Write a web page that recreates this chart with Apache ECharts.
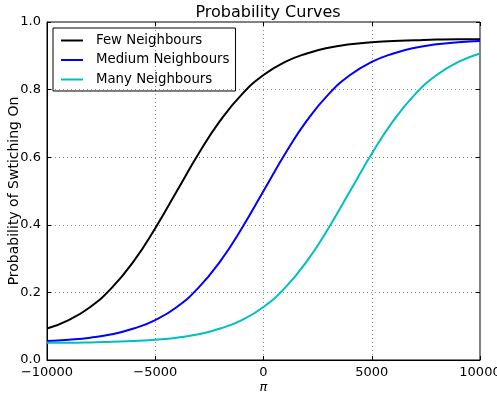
<!DOCTYPE html>
<html>
<head>
<meta charset="utf-8">
<script src="https://cdn.jsdelivr.net/npm/echarts@6/dist/echarts.min.js"></script>
<style>
  html, body { margin: 0; padding: 0; background: #fff; }
  #chart { width: 497px; height: 395px; }
</style>
</head>
<body>
<div id="chart"></div>
<script>
// x positions (pi) and curve values
const xValues = [-10000, -9000, -8000, -7000, -6000, -5000, -4000, -3000, -2000, -1000, 0,
                 1000, 2000, 3000, 4000, 5000, 6000, 7000, 8000, 9000, 10000]
const fewNeighbours = [0.093, 0.118, 0.157, 0.214, 0.292, 0.390, 0.500, 0.610, 0.708, 0.786, 0.843,
                       0.882, 0.907, 0.924, 0.934, 0.940, 0.944, 0.946, 0.948, 0.949, 0.949]
const mediumNeighbours = [0.056, 0.060, 0.066, 0.076, 0.093, 0.118, 0.157, 0.214, 0.292, 0.390, 0.500,
                          0.610, 0.708, 0.786, 0.843, 0.882, 0.907, 0.924, 0.934, 0.940, 0.944]
const manyNeighbours = [0.051, 0.051, 0.052, 0.054, 0.056, 0.060, 0.066, 0.076, 0.093, 0.118, 0.157,
                        0.214, 0.292, 0.390, 0.500, 0.610, 0.708, 0.786, 0.843, 0.882, 0.907]
const seriesNames = ['Few Neighbours', 'Medium Neighbours', 'Many Neighbours']

const font = 'DejaVu Sans'
const chart = echarts.init(document.getElementById('chart'))

function pairs(ys) {
    return xValues.map((x, i) => [x, ys[i]])
}

function makeSeries(name, ys, color) {
    return {
        name: name,
        type: 'line',
        smooth: 0.5,
        showSymbol: false,
        symbol: 'none',
        lineStyle: { width: 2, color: color },
        itemStyle: { color: color },
        data: pairs(ys)
    }
}

const gridLine = { show: true, lineStyle: { color: '#888', type: [1, 3], width: 1 } }
const tick = { show: true, inside: true, length: 4, lineStyle: { color: '#000' } }

chart.setOption({
    animation: false,
    textStyle: { fontFamily: font },
    title: {
        text: 'Probability Curves',
        left: 263,
        top: 0,
        textAlign: 'center',
        textStyle: { fontFamily: font, fontSize: 16, fontWeight: 'normal', color: '#000' }
    },
    legend: {
        orient: 'vertical',
        left: 53,
        top: 28,
        padding: [6, 6, 5, 8],
        itemWidth: 22,
        itemHeight: 2,
        itemGap: 6.5,
        borderColor: '#000',
        borderWidth: 1,
        icon: 'rect',
        data: seriesNames,
        textStyle: { fontFamily: font, fontSize: 13.3, color: '#000', padding: [0, 0, 0, 8] }
    },
    grid: {
        left: 47,
        right: 17,
        top: 22,
        bottom: 35,
        outerBoundsMode: 'none',
        show: true,
        borderColor: '#000',
        borderWidth: 1
    },
    xAxis: [{
        type: 'value',
        min: -10000,
        max: 10000,
        interval: 5000,
        name: 'π',
        nameLocation: 'middle',
        nameGap: 21,
        nameMoveOverlap: false,
        nameTextStyle: { fontFamily: font, fontSize: 13, fontStyle: 'italic', color: '#000' },
        axisLine: { onZero: false, lineStyle: { color: '#000' } },
        axisTick: tick,
        axisLabel: {
            fontFamily: font, fontSize: 13, color: '#000', margin: 6,
            formatter: v => String(v).replace('-', '\u2212')
        },
        splitLine: gridLine
    }, {
        type: 'value',
        position: 'top',
        min: -10000,
        max: 10000,
        interval: 5000,
        axisLine: { show: false, onZero: false },
        axisTick: tick,
        axisLabel: { show: false },
        splitLine: { show: false }
    }],
    yAxis: [{
        type: 'value',
        min: 0,
        max: 1,
        interval: 0.2,
        name: 'Probability of Swtiching On',
        nameLocation: 'middle',
        nameGap: 26,
        nameMoveOverlap: false,
        nameTextStyle: { fontFamily: font, fontSize: 14, color: '#000' },
        axisLine: { show: true, onZero: false, lineStyle: { color: '#000' } },
        axisTick: tick,
        axisLabel: {
            fontFamily: font, fontSize: 13, color: '#000', margin: 6,
            formatter: v => v.toFixed(1)
        },
        splitLine: gridLine
    }, {
        type: 'value',
        position: 'right',
        min: 0,
        max: 1,
        interval: 0.2,
        axisLine: { show: false, onZero: false },
        axisTick: tick,
        axisLabel: { show: false },
        splitLine: { show: false }
    }],
    series: [
        makeSeries(seriesNames[0], fewNeighbours, '#000000'),
        makeSeries(seriesNames[1], mediumNeighbours, '#0000ff'),
        makeSeries(seriesNames[2], manyNeighbours, '#00bfbf')
    ]
})
</script>
</body>
</html>
